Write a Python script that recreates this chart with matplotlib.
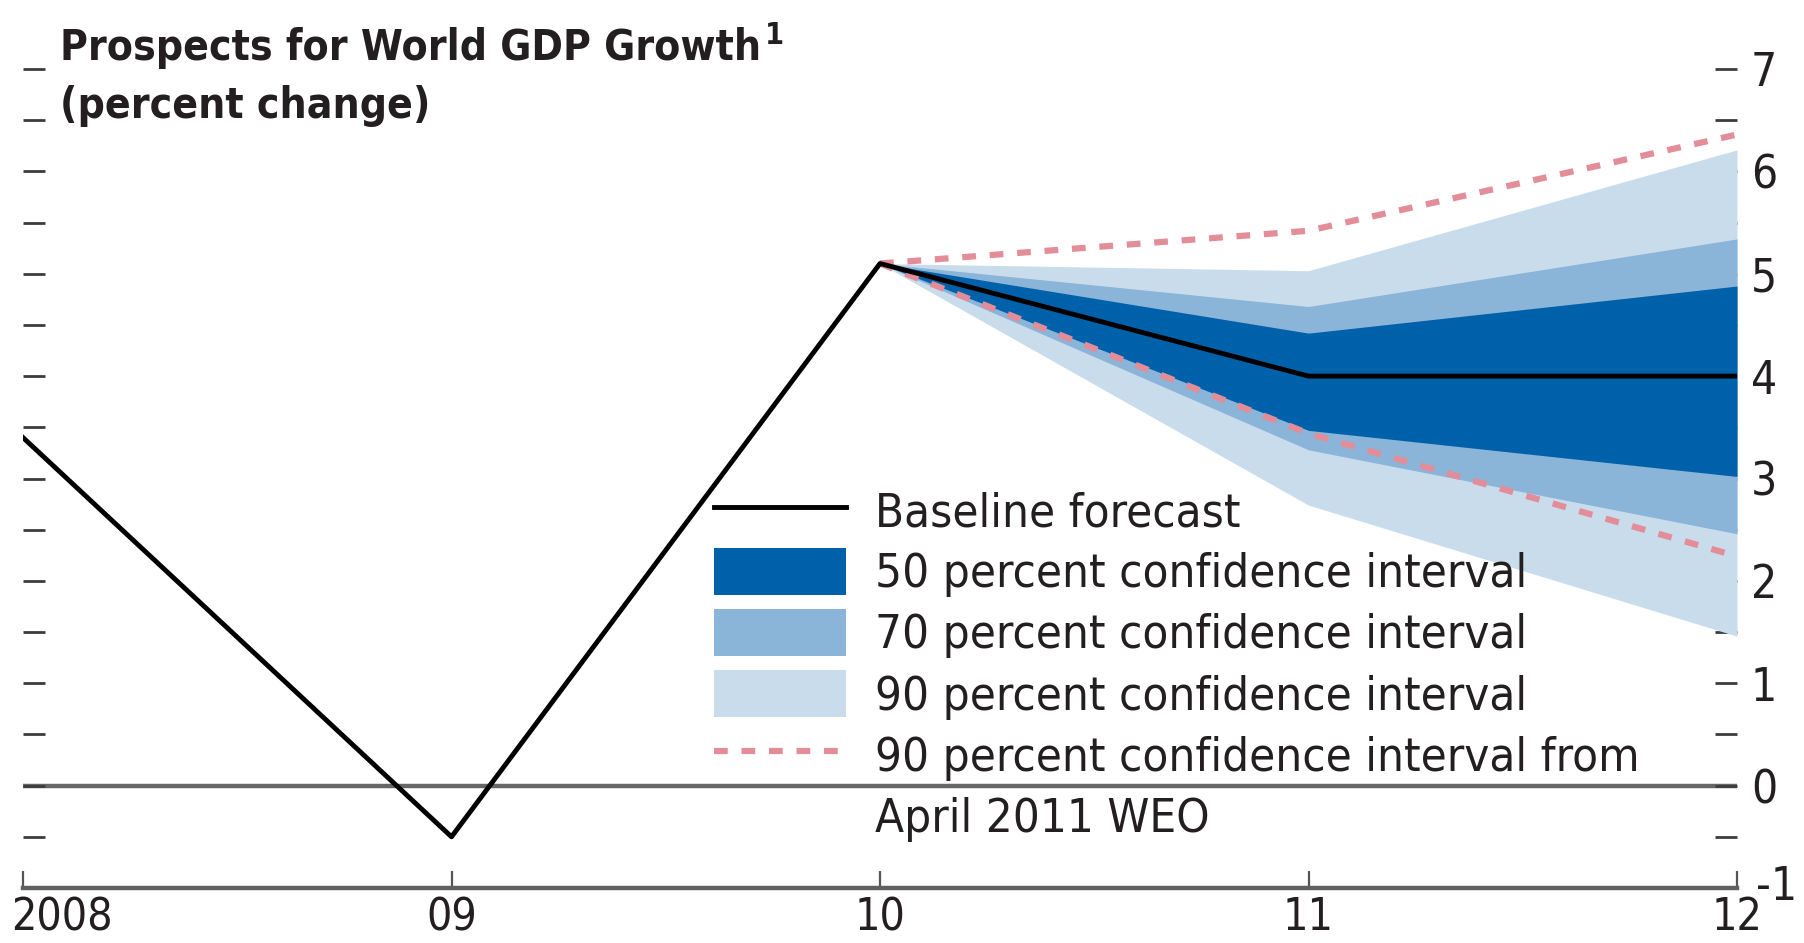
import matplotlib
matplotlib.use("Agg")
import matplotlib.pyplot as plt
from matplotlib.lines import Line2D
from matplotlib.patches import Patch
from matplotlib.transforms import ScaledTranslation

# World GDP growth, percent change (baseline forecast)
years = [2008, 2009, 2010, 2011, 2012]
baseline = [3.4, -0.5, 5.1, 4.0, 4.0]

# Fan chart around the forecast, 2010-2012
fan_years = [2010, 2011, 2012]
ci50_lo = [5.1, 3.47, 3.02]
ci50_hi = [5.1, 4.42, 4.88]
ci70_lo = [5.1, 3.28, 2.46]
ci70_hi = [5.1, 4.68, 5.34]
ci90_lo = [5.1, 2.74, 1.46]
ci90_hi = [5.1, 5.03, 6.21]

# 90 percent interval from the April 2011 WEO
apr_lo = [5.1, 3.44, 2.24]
apr_hi = [5.1, 5.42, 6.36]

x_labels = ["2008", "09", "10", "11", "12"]
y_ticks = [-1, 0, 1, 2, 3, 4, 5, 6, 7]
y_labels = ["-1", "0", "1", "2", "3", "4", "5", "6", "7"]

legend_labels = ["Baseline forecast",
                 "50 percent confidence interval",
                 "70 percent confidence interval",
                 "90 percent confidence interval",
                 "90 percent confidence interval from",
                 "April 2011 WEO"]

C50, C70, C90 = "#0061ab", "#8bb4d9", "#c9dcec"
PINK = "#e38d99"
TXT = "#231f20"

# narrow face, closest thing to the condensed font of the original
plt.rcParams["font.family"] = ["DejaVu Sans"]
plt.rcParams["font.stretch"] = "condensed"

fig = plt.figure(figsize=(18.04, 9.43), dpi=100)
ax = fig.add_axes([23 / 1804, 55 / 943, 1714 / 1804, 819 / 943])
ax.set_xlim(2008, 2012)
ax.set_ylim(-1, 7)

ax.fill_between(fan_years, ci90_lo, ci90_hi, color=C90, lw=0, zorder=2)
ax.fill_between(fan_years, ci70_lo, ci70_hi, color=C70, lw=0, zorder=2)
ax.fill_between(fan_years, ci50_lo, ci50_hi, color=C50, lw=0, zorder=2)
ax.plot(fan_years, apr_hi, color=PINK, lw=4.5, dashes=(2.2, 2.2), zorder=3)
ax.plot(fan_years, apr_lo, color=PINK, lw=4.5, dashes=(2.2, 2.2), zorder=3)
ax.axhline(0, color="#666666", lw=3.2, zorder=1)
ax.plot(years, baseline, color="black", lw=3.5, zorder=4)

for s in ["left", "right", "top"]:
    ax.spines[s].set_visible(False)
ax.spines["bottom"].set_color("#606060")
ax.spines["bottom"].set_linewidth(3.2)
ax.spines["bottom"].set_zorder(5)

ax.set_xticks(years)
ax.set_xticklabels(x_labels)
ax.tick_params(axis="x", direction="in", length=12, width=1.6, color="#555555",
               pad=6, labelsize=32, labelcolor=TXT)
ax.set_yticks(y_ticks)
ax.set_yticklabels(y_labels)
ax.set_yticks([v + 0.5 for v in y_ticks[:-1]], minor=True)
ax.tick_params(axis="y", which="both", direction="in", length=15.5, width=2,
               color="#3c3c3c", left=True, right=True,
               labelleft=False, labelright=True)
ax.tick_params(axis="y", which="major", pad=10, labelsize=33, labelcolor=TXT)

xl = ax.get_xticklabels()[0]
xl.set_ha("left")
xl.set_transform(xl.get_transform() + ScaledTranslation(-0.12, 0, fig.dpi_scale_trans))
yl = ax.get_yticklabels()[0]
yl.set_transform(yl.get_transform() + ScaledTranslation(0.05, 0.05, fig.dpi_scale_trans))

# title
t1 = fig.text(60 / 1804, 1 - 60 / 943, "Prospects for World GDP Growth",
              fontsize=30.5, fontweight="bold", color=TXT, va="baseline")
fig.text(60 / 1804, 1 - 118 / 943, "(percent change)",
         fontsize=30.5, fontweight="bold", color=TXT, va="baseline")
ax.annotate("1", xy=(1, 1), xycoords=t1, xytext=(3, 4), textcoords="offset points",
            fontsize=22, fontweight="bold", color=TXT, ha="left", va="top")

handles = [Line2D([], [], color="black", lw=3.5),
           Patch(facecolor=C50, lw=0),
           Patch(facecolor=C70, lw=0),
           Patch(facecolor=C90, lw=0),
           Line2D([], [], color=PINK, lw=4.5, dashes=(2.2, 2.2)),
           Line2D([], [], linestyle="none")]
leg = ax.legend(handles, legend_labels, loc="upper left",
                bbox_to_anchor=(714 / 1804, 1 - 487 / 943),
                bbox_transform=fig.transFigure, frameon=False,
                fontsize=34, labelcolor=TXT, borderpad=0,
                borderaxespad=0, labelspacing=0.25, handlelength=2.8,
                handleheight=1.14, handletextpad=0.61)
leg.set_zorder(6)

fig.savefig("out.png", dpi=100)
